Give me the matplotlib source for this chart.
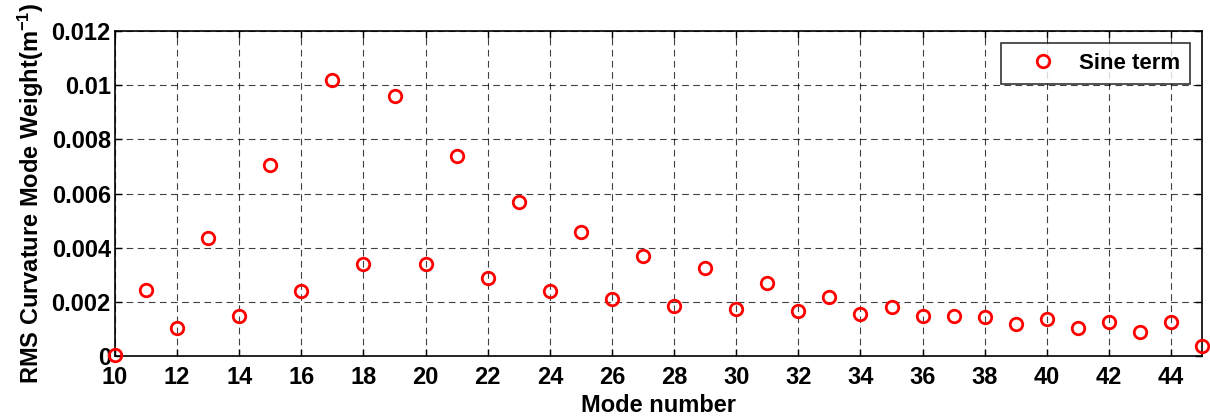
import matplotlib
matplotlib.use("Agg")
import matplotlib.pyplot as plt
from matplotlib.ticker import FixedLocator, FixedFormatter

modes = list(range(10, 46))
sine_term = [0.00005, 0.00245, 0.00105, 0.00435, 0.0015, 0.00705, 0.0024, 0.0102,
             0.0034, 0.0096, 0.0034, 0.0074, 0.00288, 0.0057, 0.0024, 0.0046,
             0.0021, 0.0037, 0.00185, 0.00325, 0.00175, 0.0027, 0.00165, 0.0022,
             0.00155, 0.0018, 0.0015, 0.0015, 0.00143, 0.0012, 0.00137, 0.00105,
             0.00125, 0.0009, 0.00125, 0.00037]
xticks = list(range(10, 45, 2))
yticks = [0, 0.002, 0.004, 0.006, 0.008, 0.01, 0.012]
ytick_labels = ["0", "0.002", "0.004", "0.006", "0.008", "0.01", "0.012"]

plt.rcParams['font.family'] = ['Liberation Sans', 'DejaVu Sans']
plt.rcParams['font.weight'] = 'bold'
plt.rcParams['mathtext.fontset'] = 'custom'
plt.rcParams['mathtext.rm'] = 'Liberation Sans:bold'
plt.rcParams['mathtext.bf'] = 'Liberation Sans:bold'
plt.rcParams['mathtext.default'] = 'bf'

fig = plt.figure(figsize=(12.10, 4.19), dpi=100)
ax = fig.add_axes([0.095, 0.150, 0.8985, 0.776])
ax.plot(modes, sine_term, linestyle='none', marker='o', markersize=9,
        markerfacecolor='none', markeredgecolor='#ff0000', markeredgewidth=2,
        label='Sine term', clip_on=False, zorder=3)
ax.set_xlim(10, 45)
ax.set_ylim(0, 0.012)
ax.xaxis.set_major_locator(FixedLocator(xticks))
ax.yaxis.set_major_locator(FixedLocator(yticks))
ax.yaxis.set_major_formatter(FixedFormatter(ytick_labels))
ax.tick_params(direction='in', top=True, right=True, labelsize=17, length=5, width=1)
ax.tick_params(axis='x', pad=7)
ax.tick_params(axis='y', pad=3)
for lab in ax.get_xticklabels() + ax.get_yticklabels():
    lab.set_fontweight('bold')
ax.grid(True, color='black', linestyle=(0, (6, 4)), linewidth=0.8, alpha=0.75)
for s in ax.spines.values():
    s.set_linewidth(1.2)
ax.set_xlabel('Mode number', fontsize=17, fontweight='bold', labelpad=4)
ax.set_ylabel('RMS Curvature Mode Weight(m$^{-1}$)', fontsize=17, fontweight='bold', labelpad=4)
leg = ax.legend(loc='upper right', fontsize=16, frameon=True, fancybox=False,
                edgecolor='black', borderpad=0.45, handletextpad=0.15, handlelength=2.9,
                borderaxespad=0.55)
leg.get_frame().set_linewidth(1.2)
fig.savefig('out.png', dpi=100)
